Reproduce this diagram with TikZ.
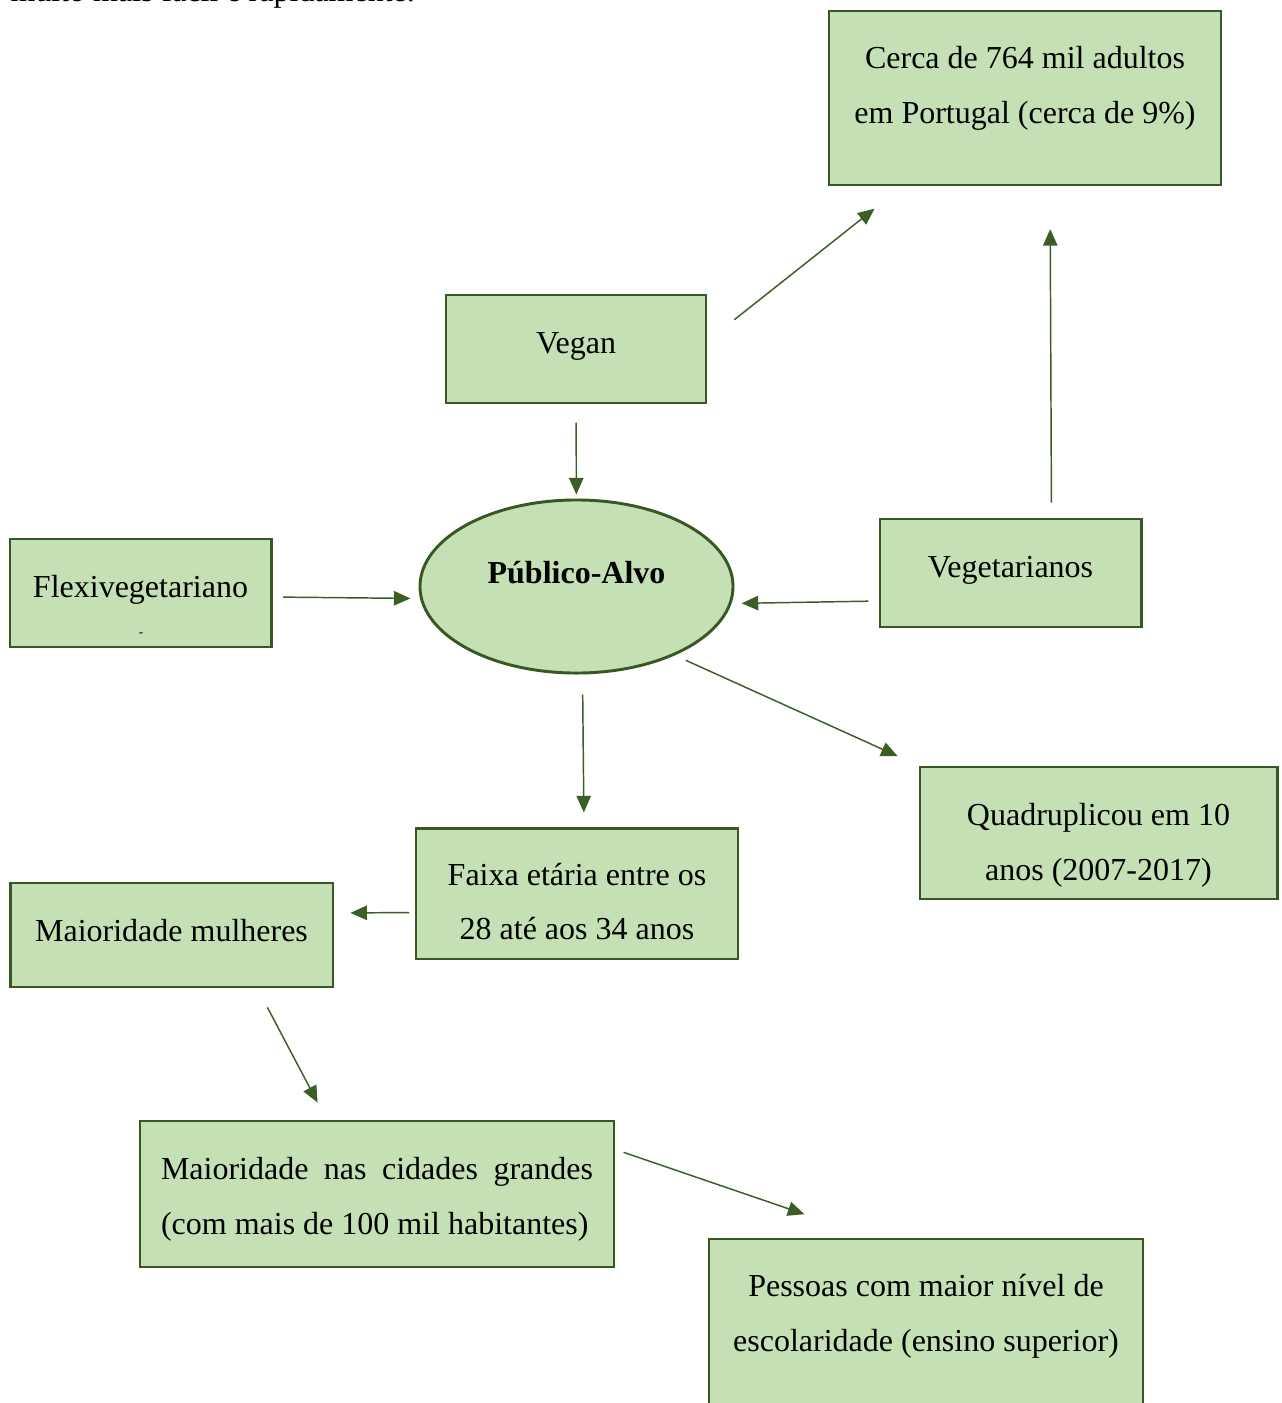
\documentclass[tikz,border=0pt]{standalone}
\usepackage{fontspec}
\setmainfont{Liberation Serif}
\usetikzlibrary{arrows.meta,positioning,shapes.geometric,calc}
\definecolor{boxfill}{HTML}{C5E0B4}
\definecolor{boxline}{HTML}{385723}
\definecolor{arrowgreen}{HTML}{3B5E25}
\newcommand{\lift}[2]{\raisebox{#1}[\height][\depth]{#2}}

\begin{document}
\begin{tikzpicture}[
  x=0.375pt, y=-0.375pt,
  box/.style={
    draw=boxline,
    fill=boxfill,
    line width=1.1pt,
    align=center,
    inner sep=0pt,
    font=\fontsize{12}{20.6}\selectfont
  },
  smallbox/.style={box, minimum width=97.9pt, minimum height=40.5pt},
  target/.style={box, ellipse, minimum width=117.4pt, minimum height=64.9pt,
    font=\fontsize{12}{20.6}\selectfont\bfseries},
  edge/.style={-{Triangle[length=6.2pt,width=5.4pt]}, draw=arrowgreen, line width=0.55pt},
  bodytext/.style={font=\fontsize{12}{20.6}\selectfont, inner sep=0pt}
]
  \useasboundingbox (0,0) rectangle (1282,1403);

  \node[bodytext, anchor=base west] (intro) at (10,1) {muito mais fácil e rapidamente.};

  \node[box, minimum width=147pt, minimum height=65.25pt] (cerca) at (1025,98)
    {\lift{3.5pt}{Cerca de 764 mil adultos}\\ \lift{3.5pt}{em Portugal (cerca de 9\%)}};
  \node[smallbox, minimum width=97.5pt] (vegan) at (576,349) {\lift{1.1pt}{Vegan}};
  \node[target] (publico) at (576.5,586.5) {\lift{5.3pt}{Público-Alvo}};
  \node[smallbox] (flexi) at (140.5,593) {\lift{1.1pt}{Flexivegetariano}};
  \node[font=\tiny, inner sep=0pt] (flexidash) at (141,635) {-};
  \node[smallbox] (veget) at (1010.5,573) {\lift{1.1pt}{Vegetarianos}};
  \node[box, minimum width=120.75pt, minimum height=49.1pt] (faixa) at (577,893.5)
    {\lift{-3pt}{Faixa etária entre os}\\ \lift{-3pt}{28 até aos 34 anos}};
  \node[box, minimum width=121.1pt, minimum height=39pt] (mulheres) at (171.5,935)
    {\lift{1.6pt}{Maioridade mulheres}};
  \node[box, minimum width=133.9pt, minimum height=49.5pt] (quadr) at (1098.5,833)
    {\lift{-4.5pt}{Quadruplicou em 10}\\ \lift{-4.5pt}{anos (2007-2017)}};
  \node[box, minimum width=177.75pt, minimum height=54.75pt] (cidades) at (377,1194)
    {\lift{-1.9pt}{\parbox{162pt}{Maioridade nas cidades grandes (com mais de 100 mil habitantes)}}};
  \node[box, minimum width=162.75pt, minimum height=67.9pt] (pessoas) at (926,1329.5)
    {\lift{5pt}{Pessoas com maior nível de}\\ \lift{5pt}{escolaridade (ensino superior)}};

  \draw[edge, shorten <=12.8pt, shorten >=13.4pt] ($(vegan.east)+(0,-8)$) -- ($(cerca.south west)+(75,0)$);
  \draw[edge, shorten <=5.6pt, shorten >=16pt] ($(veget.north)+(41,0)$) -- ($(cerca.south)+(25,0)$);
  \draw[edge, shorten <=6.8pt, shorten >=1.5pt] (vegan) -- (publico);
  \draw[edge, shorten <=4pt, shorten >=3.4pt] ($(flexi.east)+(0,4)$) -- ($(publico.west)+(1,12)$);
  \draw[edge, shorten <=3.8pt, shorten >=4pt] ($(veget.west)+(0,28)$) -- ($(publico.east)+(-3.5,17)$);
  \draw[edge, shorten <=7.5pt, shorten >=5.3pt] ($(publico.south)+(6,0)$) -- ($(faixa.north)+(7,0)$);
  \draw[edge, shorten <=4.5pt, shorten >=8.6pt] (publico.-35) -- (quadr.north west);
  \draw[edge, shorten <=1.9pt, shorten >=6pt] ($(faixa.west)+(0,19)$) -- ($(mulheres.east)+(0,-22)$);
  \draw[edge, shorten <=8pt, shorten >=7.2pt] ($(mulheres.south east)+(-77,0)$) -- ($(cidades.north west)+(188,0)$);
  \draw[edge, shorten <=3.2pt, shorten >=27pt] ($(cidades.north east)+(0,30)$) -- ($(pessoas.north west)+(165,0)$);
\end{tikzpicture}
\end{document}
